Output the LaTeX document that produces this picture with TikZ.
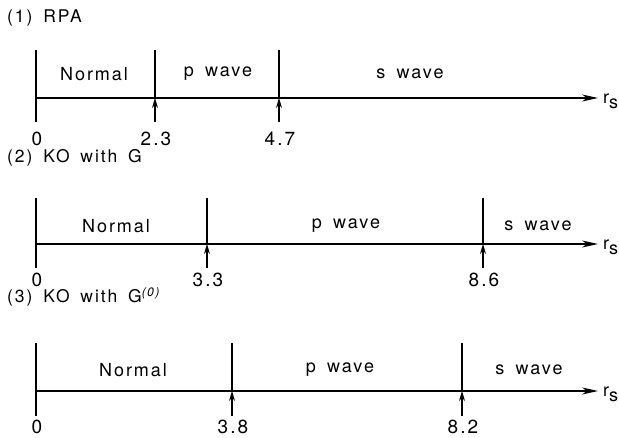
\documentclass[tikz,border=0pt]{standalone}
\usepackage{fontspec}
\setmainfont{TeX Gyre Heros}[LetterSpace=11, WordSpace=1.6]
\usetikzlibrary{arrows.meta}

\tikzset{
  axis/.style={line width=1.1pt, -{Stealth[length=16pt,width=7pt,inset=5pt]}},
  bar/.style={line width=1.1pt},
  tick/.style={line width=1.1pt, -{Stealth[length=10pt,width=6pt]}},
  region/.style={inner sep=0pt, font=\fontsize{18}{21}\selectfont},
  val/.style={inner sep=0pt, font=\fontsize{19}{22}\selectfont},
  title/.style={inner sep=0pt, anchor=west, font=\fontsize{17.5}{20}\selectfont},
}

\begin{document}
\begin{tikzpicture}[x=1pt, y=-1pt]
    \useasboundingbox (0,0) rectangle (619,438);

    % (1) RPA
    \node[title] (t1) at (7, 18) {(1) RPA};
    \coordinate (a1o) at (36, 98);
    \coordinate (a1e) at (598, 98);
    \coordinate (a1b) at (155, 98);
    \coordinate (a1c) at (279, 98);
    \draw[axis] (a1o) -- (a1e);
    \node[region, anchor=west] (rs1) at (603, 101) {r\raisebox{-5pt}{s}};
    \draw[bar] (36, 50) -- (36, 122);
    \draw[bar] (155, 50) -- (a1b);
    \draw[tick] (155, 122) -- (a1b);
    \draw[bar] (279, 50) -- (a1c);
    \draw[tick] (279, 122) -- (a1c);
    \node[val] (v10) at (37, 139) {0};
    \node[val] (v11) at (156, 139) {2.3};
    \node[val] (v12) at (280, 139) {4.7};
    \node[region] (n1) at (94, 74) {Normal};
    \node[region] (p1) at (218, 74) {p wave};
    \node[region] (s1) at (410, 74) {s wave};

    % (2) KO with G
    \node[title] (t2) at (7, 158) {(2) KO with G};
    \coordinate (a2o) at (36, 244);
    \coordinate (a2e) at (598, 244);
    \coordinate (a2b) at (207, 244);
    \coordinate (a2c) at (483, 244);
    \draw[axis] (a2o) -- (a2e);
    \node[region, anchor=west] (rs2) at (603, 247) {r\raisebox{-5pt}{s}};
    \draw[bar] (36, 198) -- (36, 268);
    \draw[bar] (207, 198) -- (a2b);
    \draw[tick] (207, 268) -- (a2b);
    \draw[bar] (483, 198) -- (a2c);
    \draw[tick] (483, 268) -- (a2c);
    \node[val] (v20) at (37, 280) {0};
    \node[val] (v21) at (208, 280) {3.3};
    \node[val] (v22) at (484, 280) {8.6};
    \node[region] (n2) at (116, 226) {Normal};
    \node[region] (p2) at (346, 226) {p wave};
    \node[region] (s2) at (538, 226) {s wave};

    % (3) KO with G^(0)
    \node[title] (t3) at (7, 297) {(3) KO with G\textsuperscript{\itshape(0)}};
    \coordinate (a3o) at (36, 391);
    \coordinate (a3e) at (598, 391);
    \coordinate (a3b) at (232, 391);
    \coordinate (a3c) at (462, 391);
    \draw[axis] (a3o) -- (a3e);
    \node[region, anchor=west] (rs3) at (603, 394) {r\raisebox{-5pt}{s}};
    \draw[bar] (36, 343) -- (36, 416);
    \draw[bar] (232, 343) -- (a3b);
    \draw[tick] (232, 416) -- (a3b);
    \draw[bar] (462, 343) -- (a3c);
    \draw[tick] (462, 416) -- (a3c);
    \node[val] (v30) at (37, 427) {0};
    \node[val] (v31) at (233, 427) {3.8};
    \node[val] (v32) at (463, 427) {8.2};
    \node[region] (n3) at (133, 370) {Normal};
    \node[region] (p3) at (340, 370) {p wave};
    \node[region] (s3) at (529, 370) {s wave};
\end{tikzpicture}
\end{document}
